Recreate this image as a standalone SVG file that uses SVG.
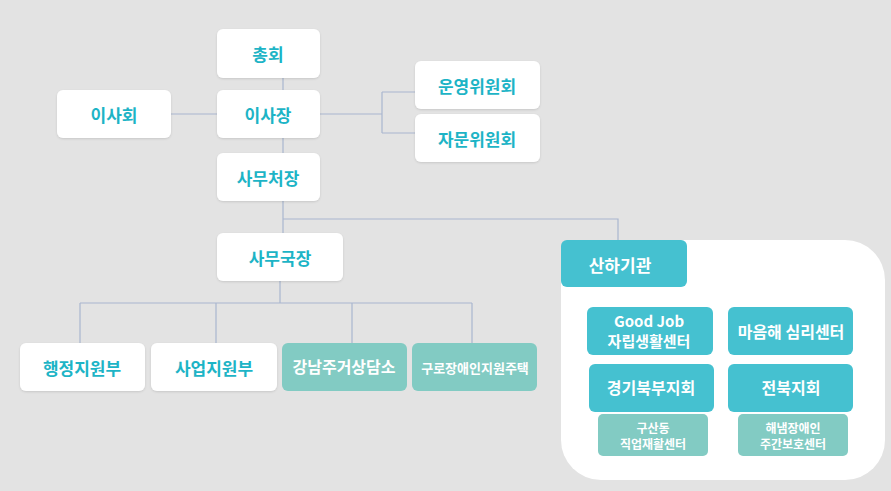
<svg xmlns="http://www.w3.org/2000/svg" width="891" height="491" viewBox="0 0 891 491">
<style>
.w{fill:#fff;filter:url(#sh)}
.t{fill:#45c1d0}
.g{fill:#82cbc3}
text{font-family:"Noto Sans CJK KR","Noto Sans",sans-serif;font-weight:700;text-anchor:middle;dominant-baseline:central}
.tc{fill:#1db4c6;font-size:17px}
.wt{fill:#fff;font-size:16px}
.st{fill:#fff;font-size:12px}
.ln{stroke:#a9b6cf;stroke-width:1.2;fill:none}
</style>
<defs><filter id="sh" x="-10%" y="-10%" width="120%" height="130%"><feDropShadow dx="0" dy="1" stdDeviation="1.2" flood-color="#000" flood-opacity="0.12"/></filter></defs>
<rect width="891" height="491" fill="#e3e3e3"/>
<g id="connectors" class="ln">
<path d="M283 78V90M171 114H217M320 114H382M382 92V133M382 92H415M382 133H415M283 138V153M283 201V233M283 219H618V240M280 281V303M80 303H472M80 303V343M216 303V343M352 303V343M472 303V343"/>
</g>
<g id="container"><rect x="561" y="240" width="324" height="240" rx="40" fill="#fff"/></g>
<g id="n-chonghoe"><rect class="w" x="217" y="29" width="103" height="49" rx="6"/><text class="tc" x="268" y="53">총회</text></g>
<g id="n-isahoe"><rect class="w" x="57" y="90" width="114" height="48" rx="6"/><text class="tc" x="114" y="114">이사회</text></g>
<g id="n-isajang"><rect class="w" x="217" y="90" width="103" height="48" rx="6"/><text class="tc" x="268" y="114">이사장</text></g>
<g id="n-unyoung"><rect class="w" x="415" y="61" width="125" height="48" rx="6"/><text class="tc" x="477" y="85">운영위원회</text></g>
<g id="n-jamun"><rect class="w" x="415" y="114" width="125" height="48" rx="6"/><text class="tc" x="477" y="138">자문위원회</text></g>
<g id="n-samucheo"><rect class="w" x="217" y="153" width="103" height="48" rx="6"/><text class="tc" x="268" y="177">사무처장</text></g>
<g id="n-samuguk"><rect class="w" x="217" y="233" width="126" height="48" rx="6"/><text class="tc" x="280" y="257">사무국장</text></g>
<g id="n-haengjeong"><rect class="w" x="20" y="343" width="125" height="48" rx="6"/><text class="tc" x="82" y="367">행정지원부</text></g>
<g id="n-saeop"><rect class="w" x="151" y="343" width="126" height="48" rx="6"/><text class="tc" x="214" y="367">사업지원부</text></g>
<g id="n-gangnam"><rect class="g" x="282" y="343" width="125" height="48" rx="6"/><text class="wt" x="344" y="366">강남주거상담소</text></g>
<g id="n-guro"><rect class="g" x="412" y="343" width="125" height="48" rx="6"/><text class="wt" x="475" y="367" style="font-size:13px">구로장애인지원주택</text></g>
<g id="n-sanha"><rect class="t" x="561" y="240" width="126" height="47" rx="6"/><text class="wt" x="620" y="264" style="font-size:17px">산하기관</text></g>
<g id="n-goodjob"><rect class="t" x="587" y="307" width="126" height="48" rx="6"/><text class="wt" x="649" y="320" style="font-size:15px">Good Job</text><text class="wt" x="649" y="340" style="font-size:15px">자립생활센터</text></g>
<g id="n-maeum"><rect class="t" x="728" y="307" width="125" height="48" rx="6"/><text class="wt" x="791" y="331">마음해 심리센터</text></g>
<g id="n-gyeonggi"><rect class="t" x="589" y="364" width="125" height="48" rx="6"/><text class="wt" x="651" y="387">경기북부지회</text></g>
<g id="n-jeonbuk"><rect class="t" x="728" y="364" width="125" height="48" rx="6"/><text class="wt" x="791" y="387">전북지회</text></g>
<g id="n-gusan"><rect class="g" x="598" y="414" width="110" height="42" rx="5"/><text class="st" x="653" y="427">구산동</text><text class="st" x="653" y="443">직업재활센터</text></g>
<g id="n-haenam"><rect class="g" x="738" y="414" width="110" height="42" rx="5"/><text class="st" x="793" y="427">해냄장애인</text><text class="st" x="793" y="443">주간보호센터</text></g>
</svg>
